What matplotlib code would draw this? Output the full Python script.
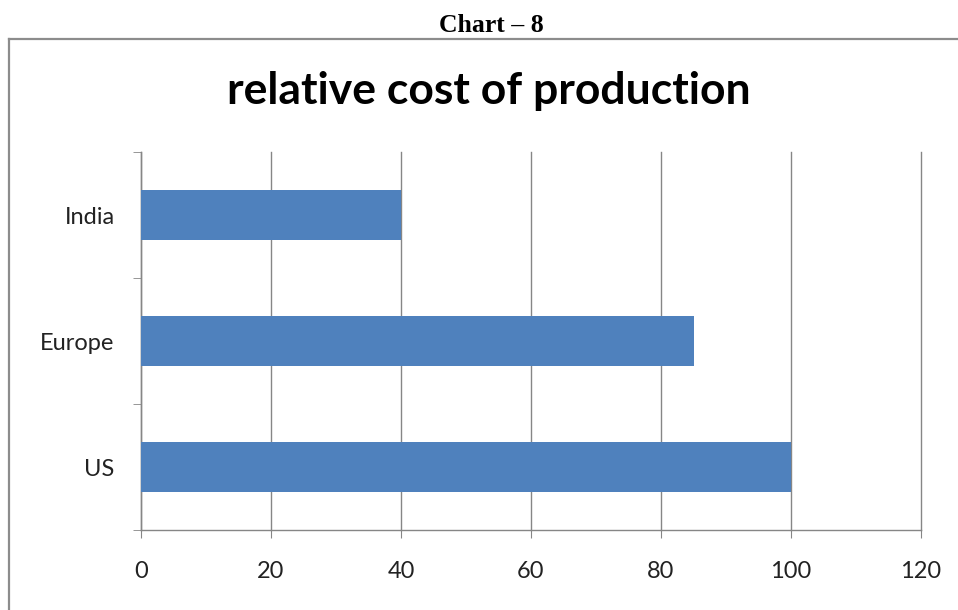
import matplotlib.pyplot as plt
from matplotlib.lines import Line2D

# relative cost of production by region
regions = ['US', 'Europe', 'India']
costs = [100, 85, 40]
x_ticks = [0, 20, 40, 60, 80, 100, 120]

bar_color = '#4F81BD'
axis_color = '#868686'

fig = plt.figure(figsize=(9.58, 6.10), dpi=100)
fig.patch.set_facecolor('white')

# outer chart frame (top and left edges visible)
fig.add_artist(Line2D([9 / 958, 1.0], [1 - 39 / 610, 1 - 39 / 610],
                      transform=fig.transFigure, color='#8c8c8c', lw=1.6))
fig.add_artist(Line2D([9 / 958, 9 / 958], [0.0, 1 - 39 / 610],
                      transform=fig.transFigure, color='#8c8c8c', lw=1.6))

fig.text(491 / 958, 1 - 25 / 610, 'Chart \u2013 8', ha='center', va='center',
         family='Liberation Serif', fontweight='bold', fontsize=18.5)
fig.text(489 / 958, 1 - 91 / 610, 'relative cost of production', ha='center',
         va='center', family='Lato', fontweight='bold', fontsize=32)

ax = fig.add_axes([141 / 958, 80 / 610, 780 / 958, 378 / 610])
ax.barh(range(len(regions)), costs, height=0.39, color=bar_color, zorder=3)

ax.set_xlim(0, 120)
ax.set_ylim(-0.5, len(regions) - 0.5)
ax.set_xticks(x_ticks)
ax.set_xticklabels([str(t) for t in x_ticks])
ax.set_yticks(range(len(regions)))
ax.set_yticklabels(regions)
ax.set_yticks([i - 0.5 for i in range(len(regions) + 1)], minor=True)

ax.grid(axis='x', color=axis_color, lw=1, zorder=0)
for gl in ax.get_xgridlines():
    gl.set_clip_on(False)
for side in ['top', 'right']:
    ax.spines[side].set_visible(False)
for side in ['left', 'bottom']:
    ax.spines[side].set_color(axis_color)
    ax.spines[side].set_linewidth(1)

ax.tick_params(axis='x', which='major', length=6, color=axis_color,
               pad=16, labelsize=17)
ax.tick_params(axis='y', which='major', length=0, pad=19, labelsize=17)
ax.tick_params(axis='y', which='minor', length=6, color=axis_color)
for lbl in ax.get_xticklabels() + ax.get_yticklabels():
    lbl.set_family('Lato')
    lbl.set_color('#222222')

fig.savefig('out.png', dpi=100)
